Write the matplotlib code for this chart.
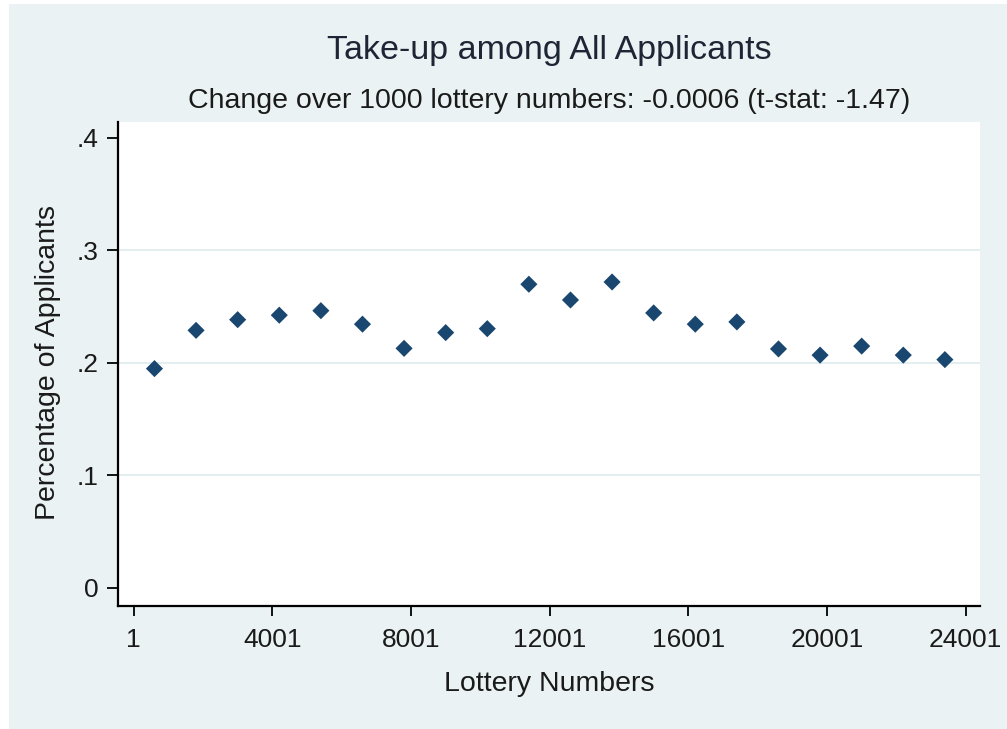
import matplotlib
matplotlib.use("Agg")
import matplotlib.pyplot as plt
from matplotlib.patches import Rectangle

# Data (bin midpoints of 1200-number lottery bins, take-up share)
lottery_mid = [600, 1800, 3000, 4200, 5400, 6600, 7800, 9000, 10200, 11400,
               12600, 13800, 15000, 16200, 17400, 18600, 19800, 21000, 22200, 23400]
takeup = [0.195, 0.229, 0.2385, 0.2425, 0.2465, 0.2345, 0.213, 0.227, 0.2305, 0.270,
          0.256, 0.272, 0.2445, 0.2345, 0.2365, 0.2125, 0.207, 0.215, 0.207, 0.203]
x_ticks = [1, 4001, 8001, 12001, 16001, 20001, 24001]
y_ticks = [0, 0.1, 0.2, 0.3, 0.4]
y_tick_labels = ["0", ".1", ".2", ".3", ".4"]

title = "Take-up among All Applicants"
subtitle = "Change over 1000 lottery numbers: -0.0006 (t-stat: -1.47)"
xlabel = "Lottery Numbers"
ylabel = "Percentage of Applicants"

BG = "#EAF2F3"
NAVY = "#1A476F"
TXT = "#1a1a1a"

plt.rcParams['font.family'] = ['Liberation Sans', 'DejaVu Sans']

W, H = 1007, 729
fig = plt.figure(figsize=(W / 100, H / 100), dpi=100, facecolor="white")
fig.patches.append(Rectangle((9 / W, -0.01), 1 - 9 / W + 0.01, 1.01 - 4 / H, transform=fig.transFigure,
                             facecolor=BG, edgecolor="none", zorder=-10))

left, right, top, bottom = 118, 980, 122, 606
ax = fig.add_axes([left / W, 1 - bottom / H, (right - left) / W, (bottom - top) / H])
ax.set_facecolor("white")

ax.scatter(lottery_mid, takeup, marker="D", s=76, color=NAVY, edgecolors="none", zorder=3)

ax.set_xlim(-452, 24413)
ax.set_ylim(-0.016, 0.4142)

for g in [0.1, 0.2, 0.3]:
    ax.axhline(g, color="#E3EEF0", lw=1.4, zorder=1)

ax.set_xticks(x_ticks)
ax.set_xticklabels([str(v) for v in x_ticks])
ax.set_yticks(y_ticks)
ax.set_yticklabels(y_tick_labels)
ax.tick_params(axis="x", length=7, width=1.3, pad=9, labelsize=19, colors="black", labelcolor=TXT)
ax.tick_params(axis="y", length=8, width=1.3, pad=6, labelsize=19, colors="black", labelcolor=TXT)

for s in ["top", "right"]:
    ax.spines[s].set_visible(False)
for s in ["left", "bottom"]:
    ax.spines[s].set_linewidth(1.6)
    ax.spines[s].set_color("black")

ax.set_xlabel(xlabel, fontsize=20.5, color=TXT, va="center")
ax.xaxis.set_label_coords(0.5, (bottom - 684) / (bottom - top))
ax.set_ylabel(ylabel, fontsize=20.5, color=TXT, va="center", ha="center")
ax.yaxis.set_label_coords((48 - left) / (right - left), 0.503)

ax.text(0.5, (bottom - 51) / (bottom - top), title, transform=ax.transAxes,
        ha="center", va="center", fontsize=24.5, color="#1e2535")
ax.text(0.5, (bottom - 101) / (bottom - top), subtitle, transform=ax.transAxes,
        ha="center", va="center", fontsize=20.5, color=TXT)

fig.savefig("out.png", dpi=100, facecolor="white")
